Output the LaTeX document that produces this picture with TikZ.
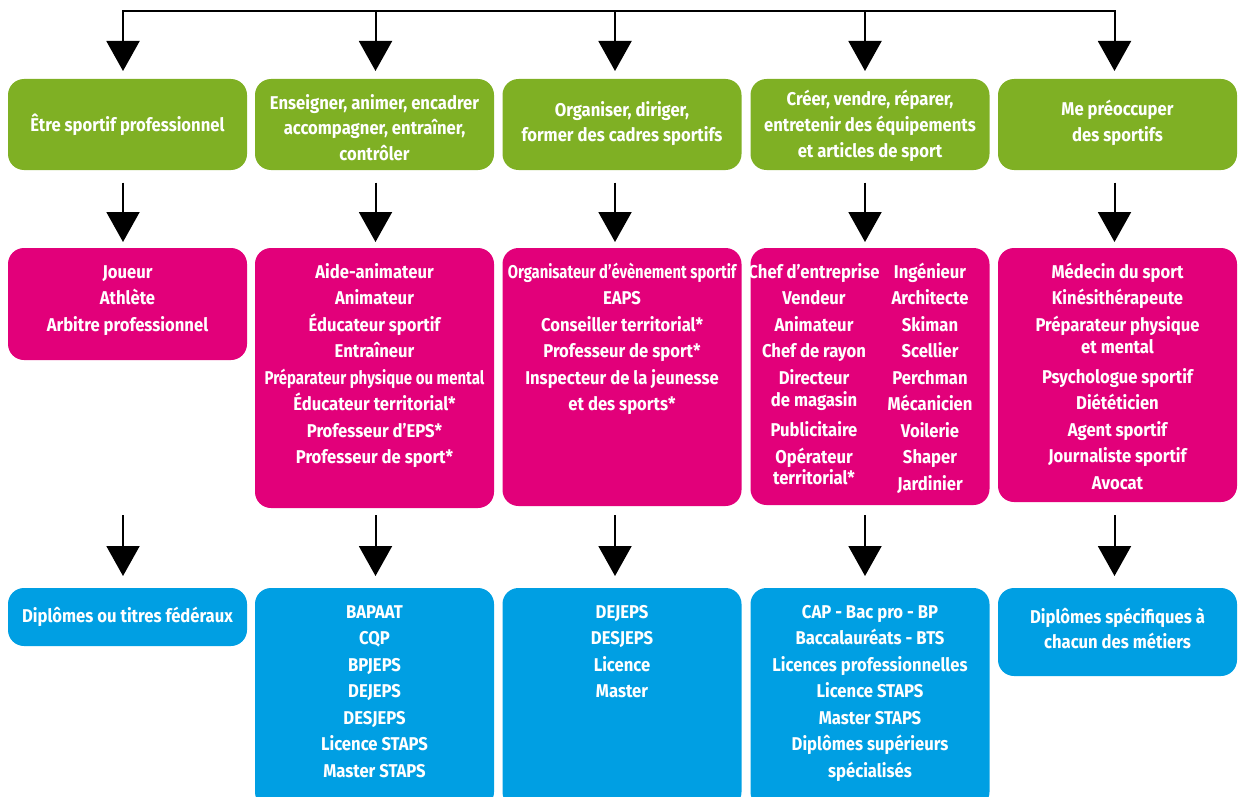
\documentclass[tikz,border=0pt]{standalone}
\usepackage{fontspec}
\usepackage{graphicx}
\setmainfont{Fira Sans}[FakeStretch=0.9]
\usetikzlibrary{arrows.meta}
\definecolor{cgreen}{HTML}{7FB024}
\definecolor{cpink}{HTML}{E2007A}
\definecolor{cblue}{HTML}{009FE3}
\newcommand\fstrut{\rule{0pt}{18pt}}
\newcommand\squeeze[2]{\scalebox{#1}[1]{#2}}
\begin{document}
\begin{tikzpicture}[x=1pt,y=-1pt,
  box/.style={rounded corners=16pt, inner sep=0pt, outer sep=0pt, minimum width=239pt, anchor=north west},
  gbox/.style={box, fill=cgreen, minimum height=91pt},
  pbox/.style={box, fill=cpink},
  bbox/.style={box, fill=cblue},
  txt/.style={text=white, align=center, anchor=north, inner sep=0pt, font=\fontsize{18.5}{26.5}\selectfont\bfseries},
  gtxt/.style={txt, font=\fontsize{18.5}{25.7}\selectfont\bfseries},
  arr/.style={line width=2pt, -{Triangle[width=33pt,length=30pt]}},
]
\useasboundingbox (0,0) rectangle (1241,797);
\clip (0,0) rectangle (1241,797);

% green boxes
\node[gbox] (g1) at (8,79) {};
\node[gbox] (g2) at (255,79) {};
\node[gbox] (g3) at (502.5,79) {};
\node[gbox] (g4) at (750.5,79) {};
\node[gbox] (g5) at (998,79) {};
% pink boxes
\node[pbox, minimum height=112pt] (p1) at (8,248) {};
\node[pbox, minimum height=260pt] (p2) at (255,248) {};
\node[pbox, minimum height=258pt] (p3) at (502.5,248) {};
\node[pbox, minimum height=257pt] (p4) at (750.5,248) {};
\node[pbox, minimum height=254pt] (p5) at (998,248) {};
% blue boxes
\node[bbox, minimum height=58pt] (b1) at (8,588) {};
\node[bbox, minimum height=220pt] (b2) at (255,588) {};
\node[bbox, minimum height=220pt] (b3) at (502.5,588) {};
\node[bbox, minimum height=220pt] (b4) at (750.5,588) {};
\node[bbox, minimum height=88pt] (b5) at (998,588) {};

% green texts
\node[gtxt] (gt1) at ([yshift=-34.7pt]g1.north) {\fstrut Être sportif professionnel};
\node[gtxt] (gt2) at ([yshift=-12pt]g2.north) {\fstrut Enseigner, animer, encadrer\\accompagner, entraîner,\\contrôler};
\node[gtxt] (gt3) at ([yshift=-19pt]g3.north) {\fstrut Organiser, diriger,\\former des cadres sportifs};
\node[gtxt] (gt4) at ([yshift=-8.7pt]g4.north) {\fstrut Créer, vendre, réparer,\\entretenir des équipements\\et articles de sport};
\node[gtxt] (gt5) at ([yshift=-18.7pt]g5.north) {\fstrut Me préoccuper\\des sportifs};

% pink texts
\node[txt] (pt1) at ([yshift=-12pt]p1.north) {\fstrut Joueur\\Athlète\\Arbitre professionnel};
\node[txt] (pt2) at ([yshift=-12pt]p2.north) {\fstrut Aide-animateur\\Animateur\\Éducateur sportif\\Entraîneur\\\squeeze{0.9}{Préparateur physique ou mental}\\Éducateur territorial*\\Professeur d’EPS*\\Professeur de sport*};
\node[txt] (pt3) at ([yshift=-12pt]p3.north) {\fstrut\squeeze{0.89}{Organisateur d’évènement sportif}\\EAPS\\Conseiller territorial*\\Professeur de sport*\\Inspecteur de la jeunesse\\et des sports*};
\node[txt] (pt4a) at ([xshift=-56pt,yshift=-12pt]p4.north) {\fstrut Chef d’entreprise\\Vendeur\\Animateur\\Chef de rayon\\Directeur\\[-4.5pt]de magasin\\[4pt]Publicitaire\\Opérateur\\[-5pt]territorial*};
\node[txt] (pt4b) at ([xshift=60pt,yshift=-12pt]p4.north) {\fstrut Ingénieur\\Architecte\\Skiman\\Scellier\\Perchman\\Mécanicien\\Voilerie\\Shaper\\Jardinier};
\node[txt] (pt5) at ([yshift=-12pt]p5.north) {\fstrut Médecin du sport\\Kinésithérapeute\\Préparateur physique\\[-4.3pt]et mental\\[3.5pt]Psychologue sportif\\Diététicien\\Agent sportif\\Journaliste sportif\\Avocat};

% blue texts
\node[txt] (bt1) at ([yshift=-16.5pt]b1.north) {\fstrut Diplômes ou titres fédéraux};
\node[txt] (bt2) at ([yshift=-12pt]b2.north) {\fstrut BAPAAT\\CQP\\BPJEPS\\DEJEPS\\DESJEPS\\Licence STAPS\\Master STAPS};
\node[txt] (bt3) at ([yshift=-12pt]b3.north) {\fstrut DEJEPS\\DESJEPS\\Licence\\Master};
\node[txt] (bt4) at ([yshift=-12pt]b4.north) {\fstrut CAP - Bac pro - BP\\Baccalauréats - BTS\\Licences professionnelles\\Licence STAPS\\Master STAPS\\Diplômes supérieurs\\spécialisés};
\node[txt] (bt5) at ([yshift=-17pt]b5.north) {\fstrut Diplômes spécifiques à\\[-1.5pt]chacun des métiers};

% arrow columns
\coordinate (t1) at (123,11);
\coordinate (t2) at (375.5,11);
\coordinate (t3) at (615,11);
\coordinate (t4) at (865,11);
\coordinate (t5) at (1114.5,11);
\coordinate (r1) at (123,515);
\coordinate (r2) at (375.5,515);
\coordinate (r3) at (615,515);
\coordinate (r4) at (865,515);
\coordinate (r5) at (1114.5,515);

\draw[line width=2pt, line cap=rect] (t1) -- (t5);
\foreach \i in {1,...,5}{
  \draw[arr, shorten >=8pt] (t\i) -- (t\i |- g\i.north);
  \draw[arr, shorten <=12.7pt, shorten >=6pt] (t\i |- g\i.south) -- (t\i |- p\i.north);
  \draw[arr, shorten >=12pt] (r\i) -- (r\i |- b\i.north);
}
\end{tikzpicture}
\end{document}
